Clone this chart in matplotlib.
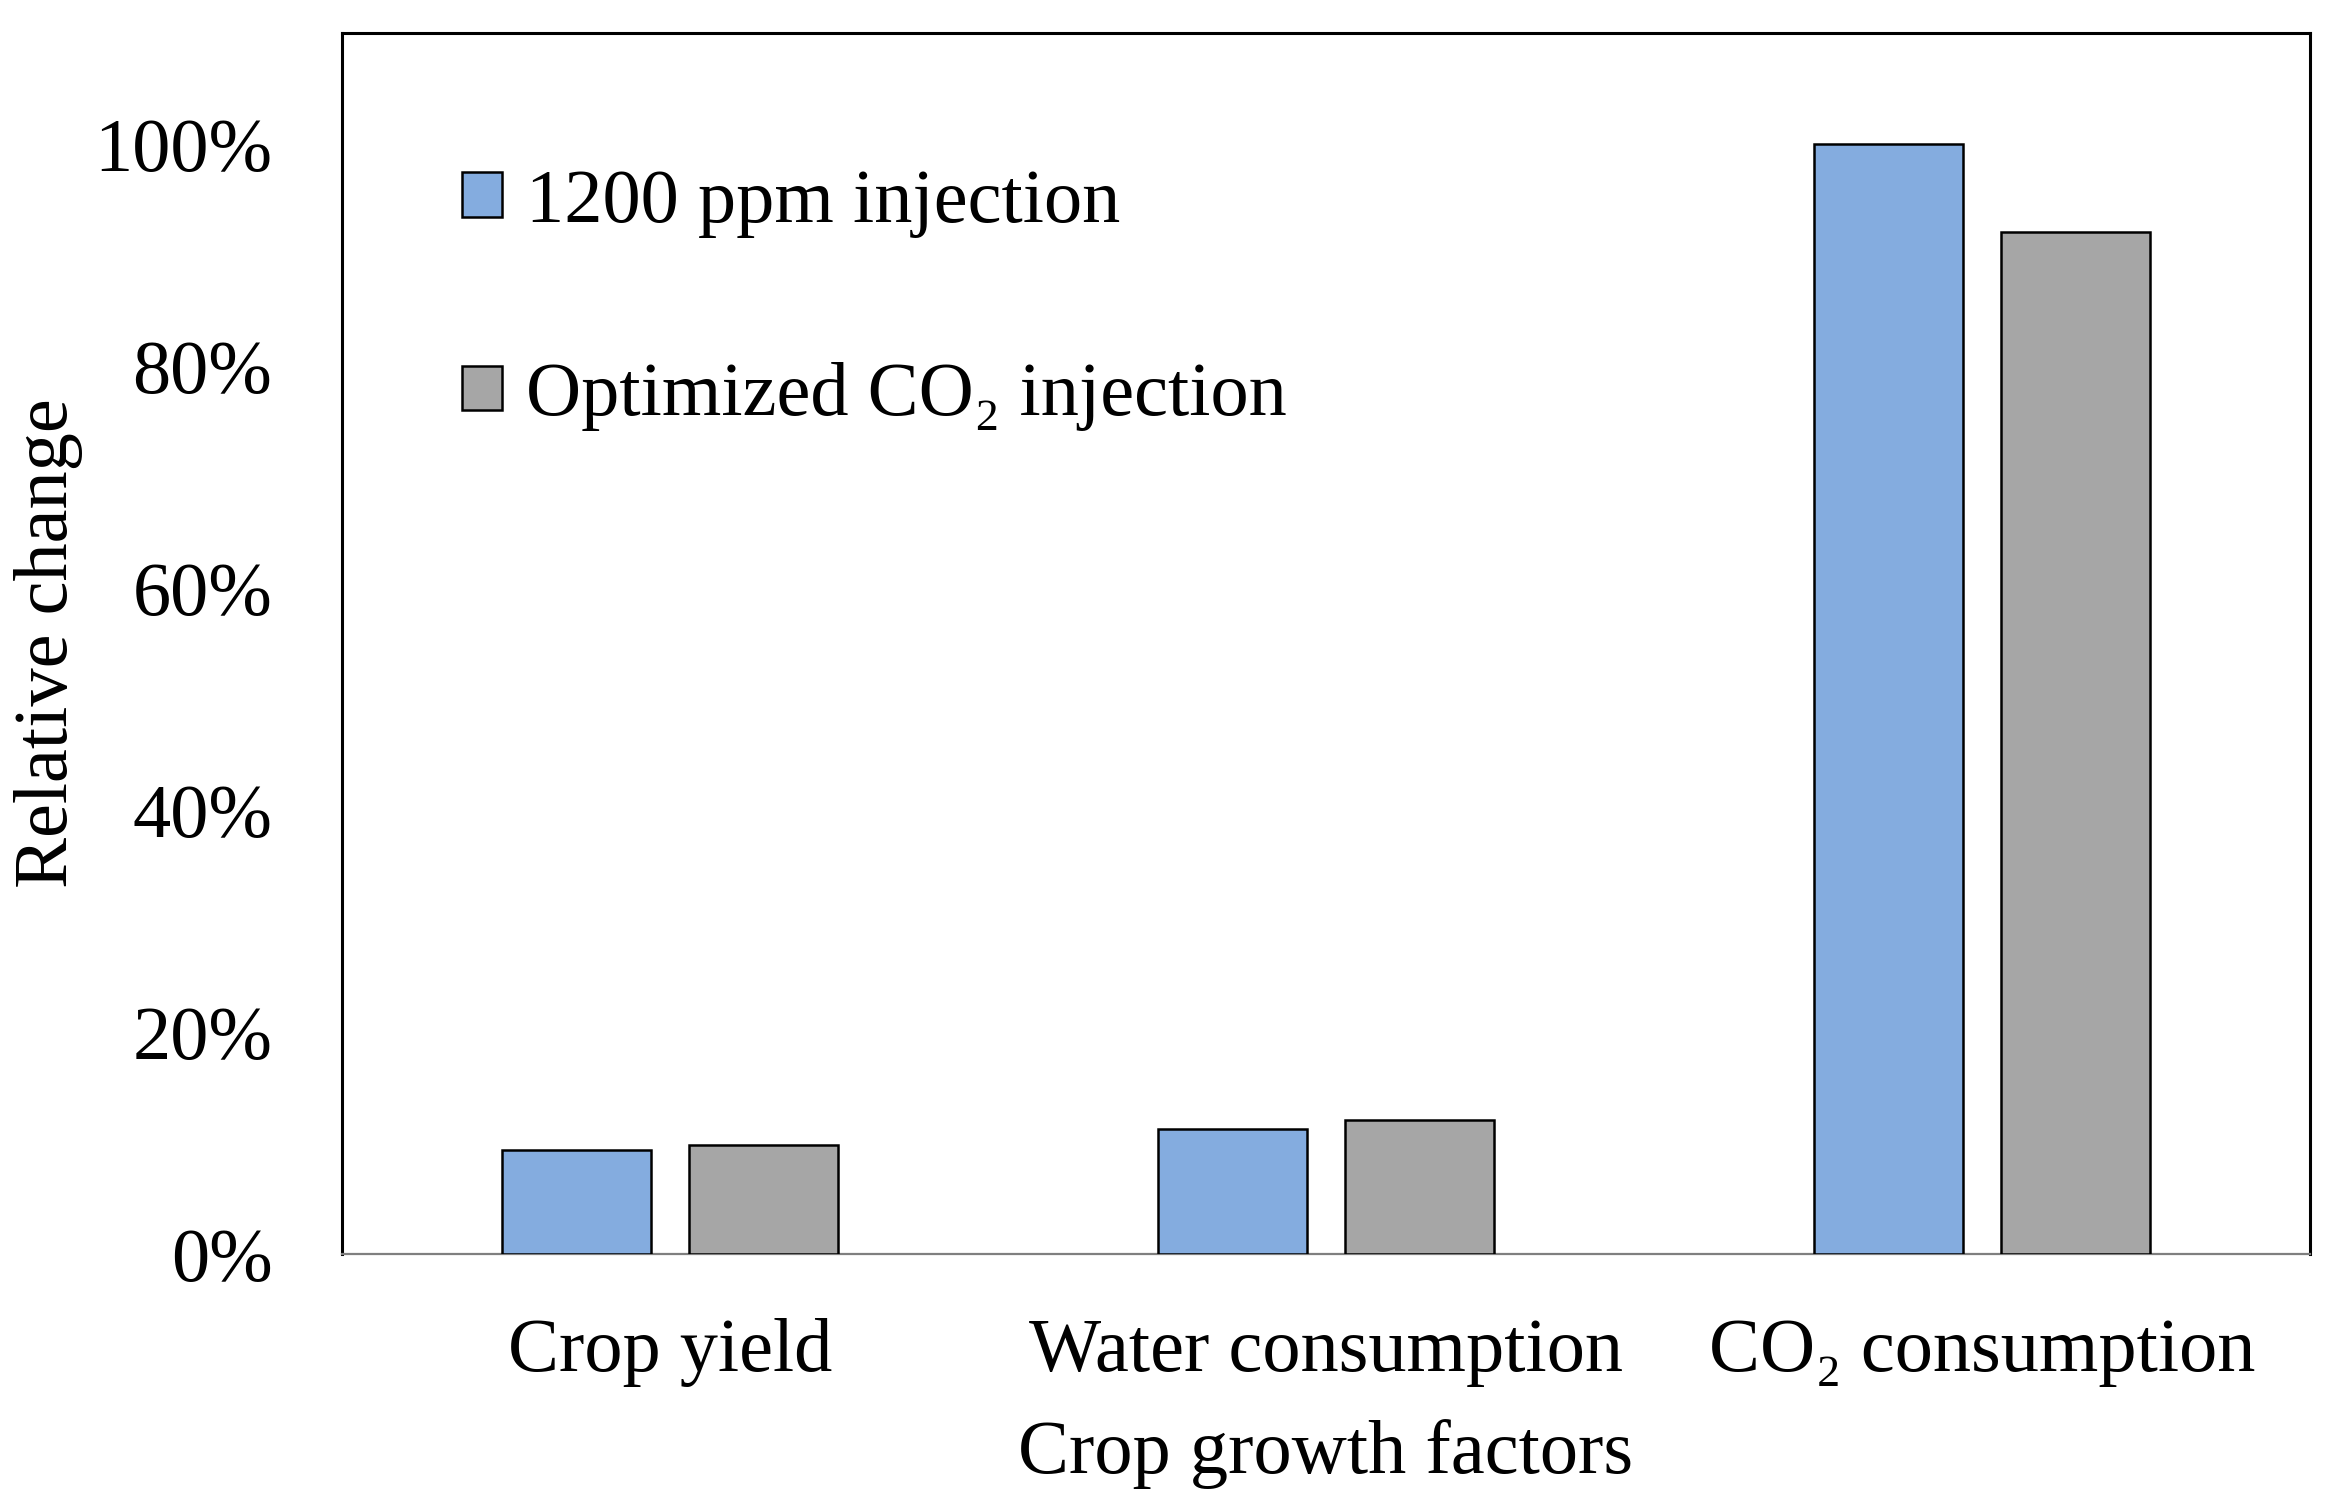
import numpy as np
import matplotlib
matplotlib.use('Agg')
import matplotlib.pyplot as plt

out_path = 'out.png'

categories = ['Crop yield', 'Water consumption', 'CO\u2082 consumption']
series_names = ['1200 ppm injection', 'Optimized CO\u2082 injection']
ppm_1200 = [0.094, 0.113, 1.00]
optimized = [0.098, 0.121, 0.921]
y_ticks = [0, 0.2, 0.4, 0.6, 0.8, 1.0]
y_tick_labels = ['0%', '20%', '40%', '60%', '80%', '100%']

colors = ['#84ACDF', '#A6A6A6']
font = ['Liberation Serif', 'DejaVu Serif']


def generate():
    plt.rcParams['font.family'] = font
    plt.rcParams['font.size'] = 55

    fig = plt.figure(figsize=(23.42, 15.02), dpi=100)
    ax = fig.add_axes([0.146, 0.1651, 0.8403, 0.8129])

    x = np.arange(len(categories))
    width = 0.226
    offset = 0.1425

    ax.bar(x - offset, ppm_1200, width, color=colors[0], edgecolor='black',
           linewidth=1.8, label=series_names[0], zorder=3)
    ax.bar(x + offset, optimized, width, color=colors[1], edgecolor='black',
           linewidth=1.8, label=series_names[1], zorder=3)

    ax.set_xlim(-0.5, 2.5)
    ax.set_ylim(0, 1.1)
    ax.set_yticks(y_ticks)
    ax.set_yticklabels(y_tick_labels)
    ax.set_xticks(x)
    ax.set_xticklabels(categories)
    ax.tick_params(axis='y', length=0, pad=50)
    ax.tick_params(axis='x', length=0, pad=46)

    for side in ['left', 'top', 'right']:
        ax.spines[side].set_color('black')
        ax.spines[side].set_linewidth(2.2)
    ax.spines['bottom'].set_color('#7F7F7F')
    ax.spines['bottom'].set_linewidth(1.6)

    ax.set_ylabel('Relative change', labelpad=8)
    ax.set_xlabel('Crop growth factors', labelpad=23)

    leg = ax.legend(loc='upper left', bbox_to_anchor=(0.061, 0.889),
                    frameon=False, handlelength=0.52, handleheight=0.52,
                    handletextpad=0.32, labelspacing=1.63, borderpad=0,
                    borderaxespad=0)
    for patch in leg.get_patches():
        patch.set_linewidth(1.8)

    fig.savefig(out_path, dpi=100)
    print(f"Chart generated at {out_path}")


if __name__ == '__main__':
    generate()
